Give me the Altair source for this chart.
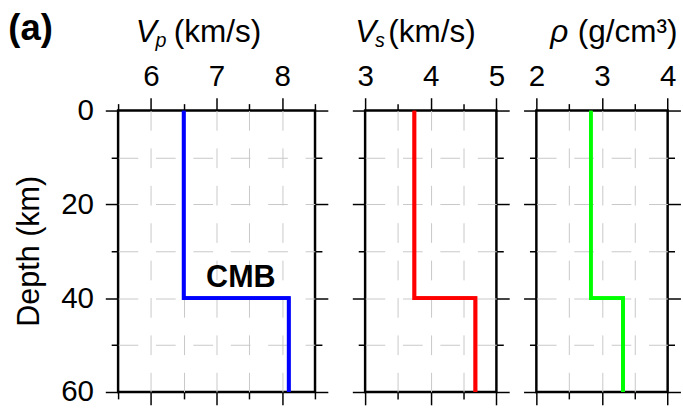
import altair as alt
import pandas as pd

# Layered crustal model: depth (km) of each profile vertex and the property there
depth = [0, 40, 40, 60]
vp = [6.5, 6.5, 8.1, 8.1]        # P-wave velocity (km/s)
vs = [3.75, 3.75, 4.68, 4.68]    # S-wave velocity (km/s)
rho = [2.83, 2.83, 3.32, 3.32]   # density (g/cm^3)

vp_ticks = [5.5, 6, 6.5, 7, 7.5, 8, 8.5]
vs_ticks = [3, 3.5, 4, 4.5, 5]
rho_ticks = [2, 2.5, 3, 3.5, 4]
depth_ticks = [0, 10, 20, 30, 40, 50, 60]

moho_label = ["CMB"]
moho_depth = [40]
moho_x = [7.37]

FONT = "Liberation Sans"
LABEL_SIZE = 30
TITLE_SIZE = 32
SUB_SIZE = 20
GRID_COLOR = "#c8c8c8"
GRID_DASH = [20, 18]
H = 286
PX_PER_UNIT = 66.7

MAJOR_X = "abs(datum.value - round(datum.value)) < 1e-6"
MAJOR_Y = "datum.value % 20 == 0"


def tick_len(test):
    return {"condition": {"test": test, "value": 13}, "value": 7}


def grid_style(lo, hi):
    # no grid line on the frame edges themselves
    return dict(grid=True, gridColor=GRID_COLOR, gridDash=GRID_DASH, gridWidth=1,
                gridOpacity={"condition": {"test": f"datum.value <= {lo} || datum.value >= {hi}",
                                           "value": 0}, "value": 1})


def text_mark(s, x, y, size=TITLE_SIZE, style="normal", weight="normal", angle=0, align="left"):
    kw = dict(font=FONT, fontSize=size, fontStyle=style, fontWeight=weight,
              align=align, baseline="alphabetic", color="black")
    if angle:
        kw["angle"] = angle
    return alt.Chart(pd.DataFrame({"t": [s]})).mark_text(**kw).encode(
        text="t:N", x=alt.value(x), y=alt.value(y))


def profile(values, color, domain, ticks, depth_labels, extra):
    width = (domain[1] - domain[0]) * PX_PER_UNIT
    df = pd.DataFrame({"depth": depth, "value": values, "step": list(range(len(depth)))})
    xscale = alt.Scale(domain=domain, nice=False, zero=False)
    yscale = alt.Scale(domain=[0, 60], reverse=True, nice=False, zero=False)
    tick_style = dict(domain=False, tickColor="black", tickWidth=1.5, title=None,
                      labelFont=FONT, labelFontSize=LABEL_SIZE, labelColor="black",
                      labelOverlap=False, labelFlush=False, labelBound=False)

    x_top = alt.Axis(orient="top", values=ticks, tickSize=tick_len(MAJOR_X), format="~g",
                     labelExpr=f"{MAJOR_X} ? datum.label : ''", labelPadding=6,
                     **grid_style(domain[0], domain[1]), **tick_style)
    if depth_labels:
        y_left = alt.Axis(orient="left", values=depth_ticks, tickSize=tick_len(MAJOR_Y),
                          format="d", labelExpr=f"{MAJOR_Y} ? datum.label : ''",
                          labelPadding=12, **grid_style(0, 60), **tick_style)
    else:
        y_left = alt.Axis(orient="left", values=depth_ticks, tickSize=tick_len(MAJOR_Y),
                          labels=False, **grid_style(0, 60), **tick_style)
    x_bottom = alt.Axis(orient="bottom", values=ticks, tickSize=tick_len(MAJOR_X),
                        labels=False, grid=False, **tick_style)
    y_right = alt.Axis(orient="right", values=depth_ticks, tickSize=tick_len(MAJOR_Y),
                       labels=False, grid=False, **tick_style)

    base = alt.Chart(df)
    line = base.mark_line(color=color, strokeWidth=3.8, clip=True).encode(
        x=alt.X("value:Q", scale=xscale, axis=x_top),
        y=alt.Y("depth:Q", scale=yscale, axis=y_left),
        order="step:Q",
    )
    frame_axes = base.mark_line(color=color, strokeWidth=3.8, clip=True).encode(
        x=alt.X("value:Q", scale=xscale, axis=x_bottom),
        y=alt.Y("depth:Q", scale=yscale, axis=y_right),
        order="step:Q",
    )
    return (alt.layer(line, frame_axes, *extra)
            .resolve_axis(x="independent", y="independent")
            .properties(width=width, height=H))


moho_df = pd.DataFrame({"label": moho_label, "value": moho_x, "depth": moho_depth})
moho_text = alt.Chart(moho_df).mark_text(
    font=FONT, fontSize=31, fontWeight="bold", align="center",
    baseline="alphabetic", dy=-11, color="black",
).encode(
    x=alt.X("value:Q", axis=None),
    y=alt.Y("depth:Q", axis=None),
    text="label:N",
)

vp_panel = profile(vp, "#0000ff", [5.5, 8.5], vp_ticks, True, [
    moho_text,
    text_mark("(a)", -111.5, -71.3, size=37, weight="bold"),
    text_mark("V", 18, -69.5, style="italic"),
    text_mark("p", 38, -65, size=SUB_SIZE, style="italic"),
    text_mark("(km/s)", 56.5, -69.5),
    text_mark("Depth (km)", -80, H / 2, size=31, angle=270, align="center"),
])
vs_panel = profile(vs, "#ff0000", [3, 5], vs_ticks, False, [
    text_mark("V", -10, -69.5, style="italic"),
    text_mark("s", 10, -65, size=SUB_SIZE, style="italic"),
    text_mark("(km/s)", 23.5, -69.5),
])
rho_panel = profile(rho, "#00ff00", [2, 4], rho_ticks, False, [
    text_mark("ρ", 14, -69.5, style="italic"),
    text_mark("(g/cm³)", 42, -69.5),
])

right_pair = alt.hconcat(vs_panel, rho_panel, spacing=40, bounds="flush")
chart = alt.hconcat(vp_panel, right_pair, spacing=50, bounds="flush").properties(
    padding={"left": 7, "top": 6, "right": 0, "bottom": 0},
    background="white",
).configure_view(stroke="black", strokeWidth=2.5)

chart.save("out.html", embed_options={"renderer": "svg", "actions": False})
